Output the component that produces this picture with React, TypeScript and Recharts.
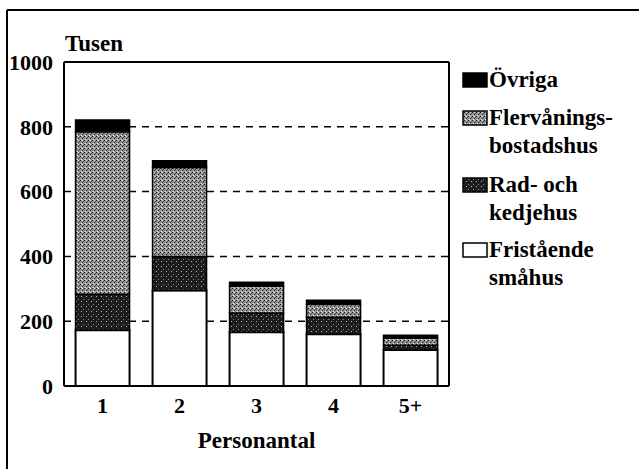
import React from "react";
import { BarChart, Bar, XAxis, YAxis, CartesianGrid } from "recharts";

const categories = ["1", "2", "3", "4", "5+"];
const fristaende = [172, 295, 166, 160, 111];
const radKedje = [111, 105, 59, 52, 15];
const flervanings = [502, 274, 83, 40, 22];
const ovriga = [36, 21, 12, 13, 9];
const yTicks = [0, 200, 400, 600, 800, 1000];

const data = categories.map((c, i) => ({
  cat: c,
  fri: fristaende[i],
  rad: radKedje[i],
  fler: flervanings[i],
  ovr: ovriga[i],
}));

const FONT = "Liberation Serif";

const legendItems = [
  { lines: ["Övriga"], fill: "#000", y: 87 },
  { lines: ["Flervånings-", "bostadshus"], fill: "url(#patFler)", y: 125 },
  { lines: ["Rad- och", "kedjehus"], fill: "url(#patRad)", y: 192 },
  { lines: ["Fristående", "småhus"], fill: "#fff", y: 257 },
];

export default function App() {
  return (
    <div style={{ position: "absolute", left: 0, top: 0, width: 639, height: 469, background: "#fff" }}>
      <svg width={0} height={0} style={{ position: "absolute" }}>
        <defs>
          <pattern id="patFler" width="4" height="4" patternUnits="userSpaceOnUse">
            <rect width="4" height="4" fill="#929292" />
            <rect x="0" y="0" width="1" height="1" fill="#1a1a1a" />
            <rect x="2" y="2" width="1" height="1" fill="#2a2a2a" />
            <rect x="3" y="1" width="1" height="1" fill="#444" />
            <rect x="1" y="3" width="1" height="1" fill="#e8e8e8" />
            <rect x="2" y="0" width="1" height="1" fill="#d0d0d0" />
          </pattern>
          <pattern id="patRad" width="5" height="5" patternUnits="userSpaceOnUse">
            <rect width="5" height="5" fill="#1c1c1c" />
            <rect x="1" y="1" width="1" height="1" fill="#bbb" />
            <rect x="3" y="4" width="1" height="1" fill="#888" />
          </pattern>
        </defs>
      </svg>
      <div style={{ position: "absolute", left: 0, top: 0 }}>
        <BarChart
          width={639}
          height={469}
          data={data}
          margin={{ top: 61, right: 189, left: 0, bottom: 0 }}
          barCategoryGap="15%"
        >
          <CartesianGrid
            horizontal={true}
            vertical={false}
            stroke="#000"
            strokeWidth={1.5}
            strokeDasharray="7 6"
          />
          <XAxis
            dataKey="cat"
            height={83}
            axisLine={{ stroke: "#000", strokeWidth: 2 }}
            tickLine={false}
            tickSize={5}
            tickMargin={6}
            tick={{ fill: "#000", fontFamily: FONT, fontWeight: 700, fontSize: 22 }}
            interval={0}
            label={{
              value: "Personantal",
              position: "insideBottom",
              offset: 21,
              fill: "#000",
              fontFamily: FONT,
              fontWeight: 700,
              fontSize: 23,
            }}
          />
          <XAxis
            xAxisId="top"
            dataKey="cat"
            orientation="top"
            height={1}
            tick={false}
            tickLine={false}
            axisLine={{ stroke: "#000", strokeWidth: 2 }}
          />
          <YAxis
            width={64}
            domain={[0, 1000]}
            ticks={yTicks}
            interval={0}
            axisLine={{ stroke: "#000", strokeWidth: 2 }}
            tickLine={false}
            tickSize={5}
            tickMargin={6}
            tick={{ fill: "#000", fontFamily: FONT, fontWeight: 700, fontSize: 22 }}
          />
          <YAxis
            yAxisId="r"
            orientation="right"
            width={1}
            domain={[0, 1000]}
            tick={false}
            tickLine={false}
            axisLine={{ stroke: "#000", strokeWidth: 2 }}
          />
          <Bar dataKey="fri" stackId="s" fill="#fff" stroke="#000" strokeWidth={2} isAnimationActive={false} />
          <Bar dataKey="rad" stackId="s" fill="url(#patRad)" stroke="#000" strokeWidth={1.5} isAnimationActive={false} />
          <Bar dataKey="fler" stackId="s" fill="url(#patFler)" stroke="#000" strokeWidth={1.5} isAnimationActive={false} />
          <Bar dataKey="ovr" stackId="s" fill="#000" stroke="#000" strokeWidth={1.5} isAnimationActive={false} />
        </BarChart>
      </div>
      <svg
        width={639}
        height={469}
        style={{ position: "absolute", left: 0, top: 0, pointerEvents: "none" }}
      >
        <line x1={7} y1={10} x2={639} y2={10} stroke="#000" strokeWidth={2} />
        <line x1={7} y1={10} x2={7} y2={469} stroke="#000" strokeWidth={2} />
        <text x={65} y={51} fontFamily={FONT} fontWeight={700} fontSize={23} fill="#000">
          Tusen
        </text>
        {legendItems.map((it, i) => (
          <g key={i}>
            <rect x={463} y={it.y - 14} width={24} height={14} fill={it.fill} stroke="#000" strokeWidth={1.5} />
            {it.lines.map((ln, j) => (
              <text
                key={j}
                x={489}
                y={it.y + j * 28}
                fontFamily={FONT}
                fontWeight={700}
                fontSize={23}
                fill="#000"
              >
                {ln}
              </text>
            ))}
          </g>
        ))}
      </svg>
    </div>
  );
}
